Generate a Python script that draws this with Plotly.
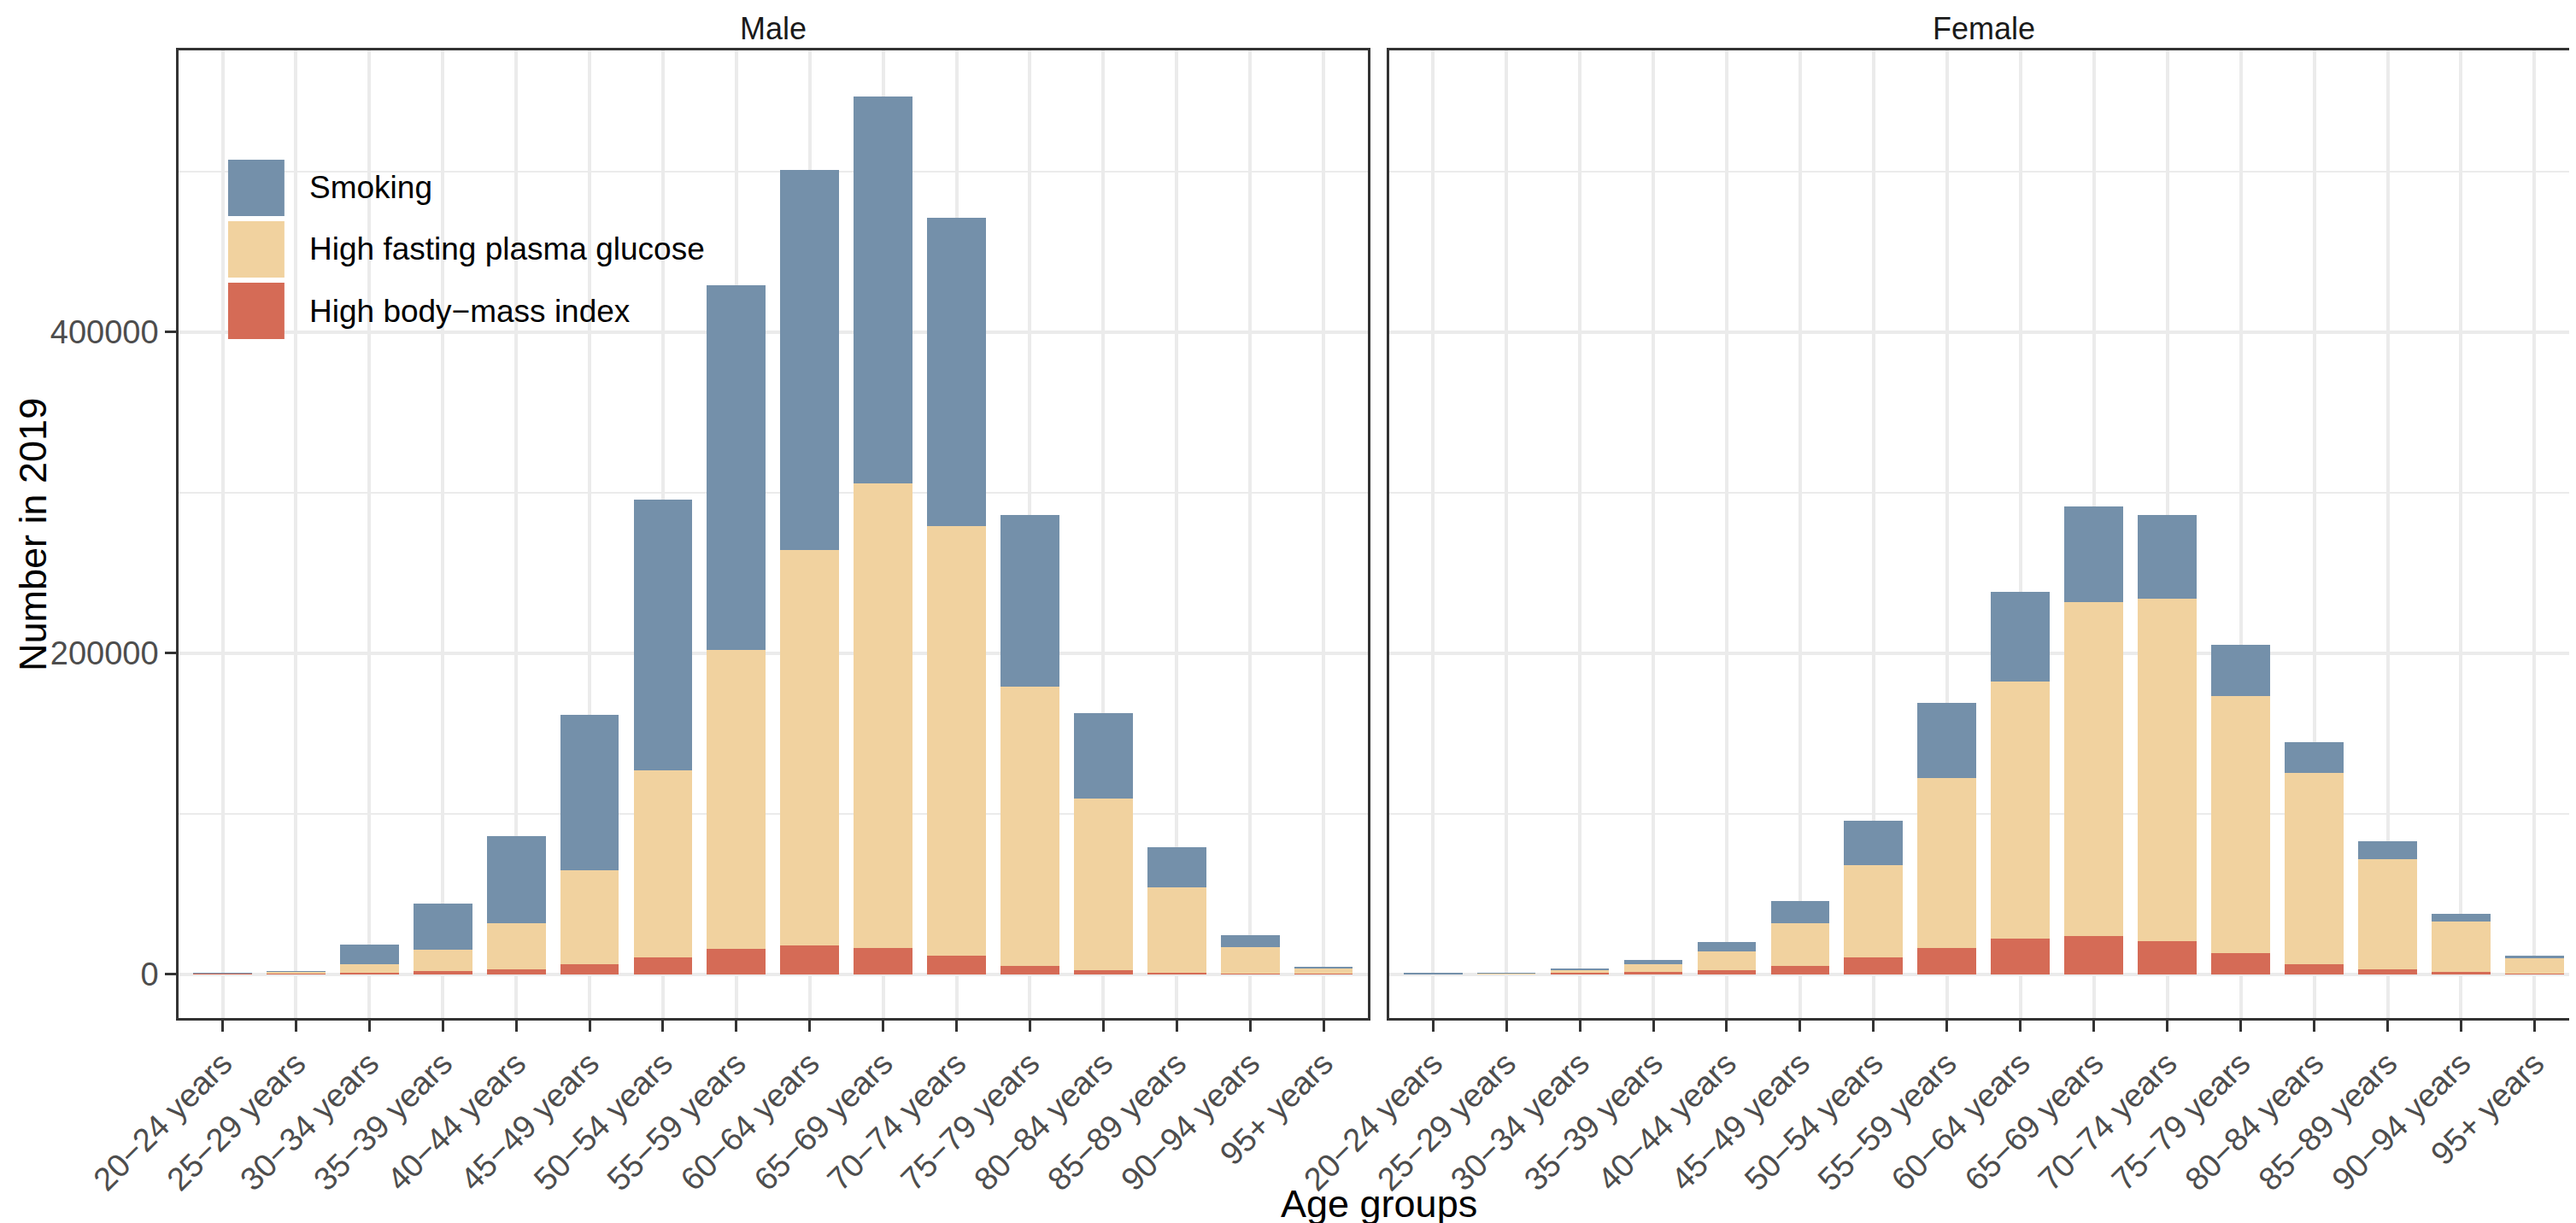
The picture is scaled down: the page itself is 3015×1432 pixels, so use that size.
import plotly.graph_objects as go

# age groups on the x axis (R draws the hyphen as a minus sign)
age_groups = ["20−24 years", "25−29 years", "30−34 years", "35−39 years",
              "40−44 years", "45−49 years", "50−54 years", "55−59 years",
              "60−64 years", "65−69 years", "70−74 years", "75−79 years",
              "80−84 years", "85−89 years", "90−94 years", "95+ years"]

# stacked segments
male_bmi = [300, 200, 900, 1600, 3000, 6000, 10600, 15800, 17800, 16400, 11200, 5200, 2200, 1000, 300, 100]
male_fpg = [150, 1200, 5300, 13800, 28500, 58500, 116200, 186000, 246500, 289500, 267900, 174000, 107100, 52900, 16400, 3400]
male_smoking = [50, 200, 12300, 28600, 54500, 97000, 168700, 227500, 236700, 240900, 191900, 107000, 53500, 25300, 7500, 1000]

female_bmi = [150, 200, 900, 1300, 2600, 5200, 10200, 16100, 21900, 23900, 20400, 12800, 5900, 3000, 1300, 400]
female_fpg = [100, 500, 1700, 4800, 11300, 26500, 57700, 105800, 160100, 208000, 213400, 160300, 119500, 68800, 31200, 9600]
female_smoking = [50, 100, 1100, 2600, 6300, 13600, 27800, 46900, 56200, 59400, 52100, 32100, 19100, 10800, 5200, 1700]

risks = ["High body−mass index", "High fasting plasma glucose", "Smoking"]
colors = {"Smoking": "#7490AA", "High fasting plasma glucose": "#F1D29F",
          "High body−mass index": "#D56B56"}

font = "Liberation Sans, Arial, sans-serif"

fig = go.Figure()
male = [male_bmi, male_fpg, male_smoking]
female = [female_bmi, female_fpg, female_smoking]
for name, m, f in zip(risks, male, female):
    fig.add_trace(go.Bar(x=age_groups, y=m, name=name, marker_color=colors[name],
                         marker_line_width=0, xaxis="x", yaxis="y", showlegend=False))
    fig.add_trace(go.Bar(x=age_groups, y=f, name=name, marker_color=colors[name],
                         marker_line_width=0, xaxis="x2", yaxis="y2", showlegend=False))

xax = dict(type="category", range=[-0.6, 15.6], showline=True, mirror=True,
           linecolor="#333333", linewidth=2.5, showgrid=True, gridcolor="#EBEBEB",
           gridwidth=4, ticks="outside", ticklen=13, tickwidth=3, tickcolor="#333333",
           tickangle=-45, tickfont=dict(size=38, color="#4D4D4D", family=font),
           zeroline=False)
yax = dict(range=[-27400, 575400], tick0=0, dtick=200000, tickformat="d",
           showline=True, mirror=True, linecolor="#333333", linewidth=2.5,
           showgrid=True, gridcolor="#EBEBEB", gridwidth=4, zeroline=False,
           minor=dict(dtick=100000, showgrid=True, gridcolor="#EBEBEB", gridwidth=2))

fig.update_layout(
    width=3015, height=1432,
    margin=dict(l=201, r=2, t=51, b=248),
    plot_bgcolor="white", paper_bgcolor="white",
    barmode="stack", bargap=0.2,
    font=dict(family=font, color="black"),
    xaxis=dict(domain=[0, 0.4954], anchor="y", **xax),
    xaxis2=dict(domain=[0.5043, 1], anchor="y2", **xax),
    yaxis=dict(anchor="x", ticks="outside", ticklen=13, tickwidth=3, tickcolor="#333333",
               tickfont=dict(size=38, color="#4D4D4D", family=font), **yax),
    yaxis2=dict(anchor="x2", matches="y", showticklabels=False, ticks="", **yax),
)

# facet strips and axis titles (anchors set explicitly, "auto" snaps to a side)
mid = dict(xref="paper", yref="paper", xanchor="center", yanchor="middle", showarrow=False)
ann = [
    dict(text="Male", x=0.2477, y=1.0229, font=dict(size=36, color="#1A1A1A"), **mid),
    dict(text="Female", x=0.7522, y=1.0229, font=dict(size=36, color="#1A1A1A"), **mid),
    dict(text="Age groups", x=0.5, y=-0.1924, font=dict(size=45), **mid),
    dict(text="Number in 2019", x=-0.0605, y=0.4996, textangle=-90,
         font=dict(size=45), **mid),
]

# legend drawn by hand inside the male panel (keys are much larger than plotly's)
legend_order = ["Smoking", "High fasting plasma glucose", "High body−mass index"]
key_tops = [0.8870, 0.8235, 0.7599]
key_h = 0.0582
shapes = []
for name, top in zip(legend_order, key_tops):
    shapes.append(dict(type="rect", xref="paper", yref="paper",
                       x0=0.02063, x1=0.04410, y0=top - key_h, y1=top,
                       fillcolor=colors[name], line_width=0, layer="above"))
    ann.append(dict(text=name, x=0.0537, y=top - key_h / 2, xref="paper", yref="paper",
                    xanchor="left", yanchor="middle", showarrow=False,
                    font=dict(size=37, color="black")))

fig.update_layout(annotations=ann, shapes=shapes)

fig.write_html("out.html")
